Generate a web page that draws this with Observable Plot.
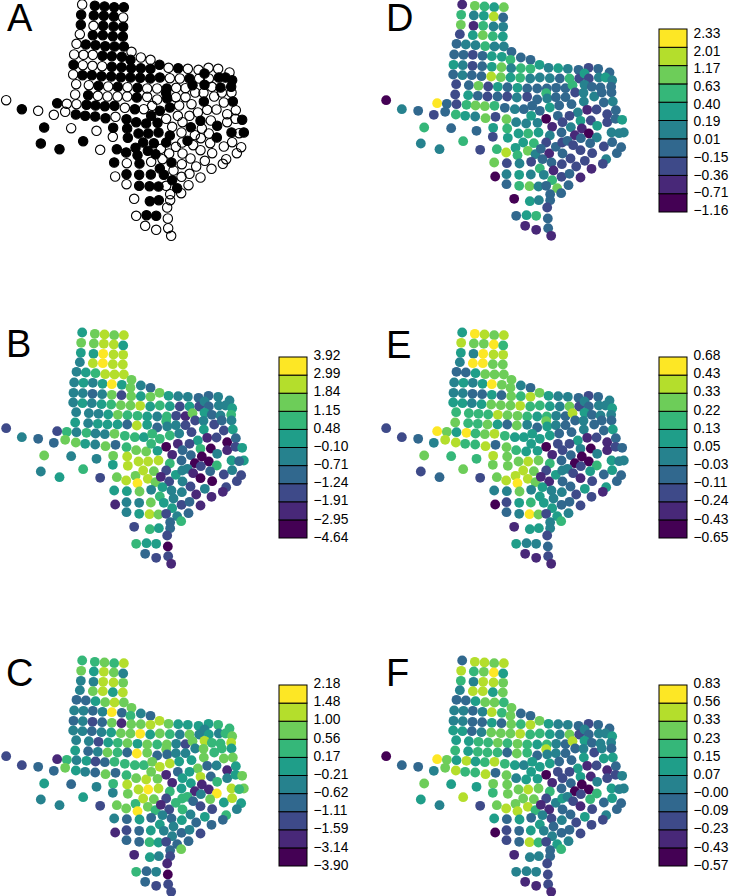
<!DOCTYPE html>
<html><head><meta charset="utf-8">
<style>
html,body{margin:0;padding:0;background:#fff;width:731px;height:896px;overflow:hidden}
#page{position:relative;width:731px;height:896px;font-family:"Liberation Sans",Arial,sans-serif}
#page>div{position:absolute}
#page svg{overflow:visible;background:transparent;display:block}
.letter{font-size:38px;line-height:0.9;color:#000}
</style>
<script src="https://cdn.jsdelivr.net/npm/d3@7"></script>
<script src="https://cdn.jsdelivr.net/npm/@observablehq/plot@0.6"></script>
</head><body><div id="page"></div>
<script>
const stationX=[245,283,312,341,370,242,280,310,340,368,
241,279,308,339,368,238,277,307,337,367,
228,256,285,314,342,370,221,249,277,306,
334,364,393,390,421,450,219,247,276,305,
334,363,392,421,450,477,504,533,562,594,
624,653,687,218,246,274,303,332,361,390,
419,449,478,508,538,567,596,612,625,655,
675,695,227,265,294,323,352,381,411,440,
470,499,527,555,576,612,634,660,692,224,
263,292,321,351,380,409,440,470,497,500,
526,555,584,609,641,664,693,170,199,228,
258,285,313,342,373,403,430,455,478,508,
536,573,610,670,697,592,620,648,680,706,
17,64,113,160,194,226,254,284,315,345,
378,407,437,452,471,497,532,567,515,546,
571,600,631,680,705,725,604,625,583,650,
649,693,730,716,601,543,508,474,443,414,
380,338,288,212,131,382,337,248,121,177,
299,349,377,405,428,442,460,411,465,497,
481,506,526,545,561,578,629,670,695,722,
600,635,709,546,570,613,677,341,379,417,
452,486,513,544,587,633,667,519,478,378,
416,451,490,344,543,567,600,515,378,416,
447,474,497,530,564,542,509,401,448,475,
509,500,407,438,467,502,434,467,503,512];
const stationY=[21,25,27,29,29,52,54,55,57,60,
82,85,85,87,88,110,113,113,116,117,
139,141,143,146,147,147,171,172,172,175,
176,178,163,187,180,187,202,203,205,206,
208,209,212,212,214,202,211,212,214,217,
211,214,225,231,233,233,236,237,239,240,
241,243,240,242,243,243,243,228,243,240,
240,248,260,263,265,267,268,269,271,273,
273,273,271,272,263,262,268,270,268,291,
293,295,297,297,297,300,298,306,287,303,
299,299,285,286,297,285,285,317,319,320,
322,324,326,325,331,335,335,325,340,330,
324,320,312,315,312,345,337,336,350,338,
308,335,340,352,343,351,355,357,362,358,
365,374,378,355,376,364,355,355,388,374,
389,370,369,374,364,367,393,408,413,385,
420,405,405,407,422,405,414,405,408,408,
393,391,400,392,390,421,418,431,438,455,
457,455,465,451,435,460,437,473,470,435,
454,468,448,435,430,443,437,447,434,449,
458,467,467,468,483,490,485,495,497,498,
493,485,495,500,507,514,499,519,513,530,
532,531,532,537,538,529,540,548,560,565,
566,567,565,572,563,587,590,604,611,608,
608,630,655,653,655,663,685,697,692,715];
const panelA=[0,1,1,1,1,1,1,1,1,0,
1,0,1,1,1,0,1,1,1,1,
0,1,1,1,1,1,0,0,0,1,
1,1,0,1,0,0,1,0,0,0,
1,1,1,1,1,1,0,1,0,0,
0,0,0,0,1,1,1,1,1,1,
1,1,1,0,0,1,0,1,0,1,
1,1,0,0,1,0,1,0,1,0,
0,1,0,0,1,1,0,1,1,0,
1,0,0,0,0,1,0,0,1,1,
0,0,0,0,0,0,0,1,0,0,
1,1,1,1,0,1,0,0,1,1,
0,0,1,0,1,0,0,0,0,0,
0,1,0,0,0,1,1,1,1,0,
1,1,1,1,1,0,0,0,0,0,
1,1,0,0,0,1,0,0,0,1,
1,1,1,0,0,0,1,1,1,1,
1,1,0,0,1,1,0,1,1,1,
0,1,1,1,1,1,1,1,1,1,
0,0,0,0,1,0,0,0,0,0,
0,0,0,0,0,0,0,1,0,1,
0,0,1,0,0,0,0,0,1,1,
1,1,1,0,0,0,0,1,0,1,
1,1,0,1,0,0,0,0,1,1,
0,0,0,1,1,0,0,0,0,0];
const panelB=[5,7,8,7,8,7,7,8,8,5,
5,5,9,8,8,4,8,9,8,8,
4,5,6,8,8,8,4,5,4,5,
9,5,7,7,4,3,4,4,3,4,
7,2,7,5,7,7,5,4,4,3,
3,4,4,4,5,4,5,6,7,7,
8,5,6,5,2,5,2,4,3,4,
4,5,4,4,4,5,7,6,6,5,
4,6,2,1,7,5,3,4,6,5,
4,5,5,5,3,8,5,3,6,4,
4,2,2,4,2,3,4,2,6,4,
6,4,4,7,6,6,5,6,6,6,
4,2,5,2,5,5,1,2,0,3,
2,4,3,3,7,7,5,4,7,3,
6,7,7,6,5,0,1,2,1,3,
3,6,0,1,2,5,0,0,0,4,
6,5,5,3,2,3,6,8,8,8,
8,7,4,4,7,8,5,6,4,5,
2,7,8,7,8,8,7,9,7,2,
1,2,5,4,4,1,3,2,4,2,
0,0,2,4,2,4,2,5,5,7,
4,5,4,4,1,1,1,4,6,4,
4,7,5,1,2,3,1,5,4,5,
8,7,2,4,3,6,3,2,6,5,
3,2,6,5,5,0,3,2,2,1];
const panelC=[6,6,7,6,8,7,5,8,7,4,
4,4,8,8,7,4,7,8,5,8,
3,3,5,7,8,7,4,4,3,4,
9,3,7,6,4,3,3,4,2,3,
7,1,7,7,8,8,7,5,5,5,
5,6,6,4,4,3,4,5,7,7,
9,5,7,6,4,7,4,4,5,4,
6,7,4,4,2,5,6,7,5,7,
6,7,4,2,7,8,6,6,8,5,
3,4,7,6,3,9,7,3,7,3,
4,4,4,7,6,6,5,1,6,4,
5,2,3,6,6,6,6,7,8,8,
5,5,7,7,7,7,3,4,1,5,
2,2,3,3,7,5,4,3,7,3,
6,7,8,7,7,1,3,5,1,5,
5,8,3,4,5,7,1,1,1,6,
9,8,7,6,4,5,6,8,9,8,
8,6,4,3,5,7,4,5,4,4,
2,7,7,6,8,7,7,9,6,2,
1,2,6,6,6,3,7,5,8,5,
2,2,4,6,4,5,6,4,3,5,
3,4,3,5,3,3,3,4,5,2,
3,5,4,1,3,4,2,4,3,3,
6,5,2,3,3,7,3,1,5,4,
2,1,6,3,4,0,3,2,2,2];
const panelD=[1,7,6,5,7,6,4,5,8,3,
7,1,6,4,4,2,5,7,6,5,
3,4,4,6,4,4,3,3,2,3,
5,5,3,6,3,3,5,4,2,3,
5,7,4,6,6,5,4,5,4,3,
2,3,3,3,4,3,3,8,7,5,
6,4,4,4,3,6,2,5,2,4,
5,4,2,3,7,2,5,3,5,3,
3,3,3,3,6,4,3,3,3,2,
5,3,2,3,2,4,2,3,6,4,
3,3,2,4,4,3,3,9,3,2,
6,7,7,6,3,4,3,3,3,5,
3,3,4,3,4,4,1,2,2,3,
0,4,3,2,3,6,5,4,7,2,
7,4,4,5,4,0,3,2,1,2,
4,5,2,2,3,5,1,0,1,5,
4,4,4,4,3,3,4,5,6,5,
6,5,3,3,6,5,2,6,4,4,
2,6,8,5,5,7,6,6,4,2,
3,1,3,2,3,2,3,2,3,3,
2,2,3,3,2,2,4,7,2,4,
2,3,3,2,2,1,2,1,6,4,
5,4,4,0,2,3,1,6,3,6,
7,4,3,7,3,3,3,0,5,4,
3,2,3,5,6,3,1,1,3,1];
const panelE=[5,9,8,7,8,8,7,7,9,6,
5,4,9,8,8,4,9,9,7,7,
3,3,5,7,7,7,4,5,4,5,
9,7,7,7,4,3,4,4,3,3,
5,3,7,6,8,7,5,4,4,3,
2,3,4,5,5,4,5,7,7,7,
8,6,6,5,4,7,2,4,3,4,
4,5,6,6,6,6,8,7,7,6,
5,6,4,3,8,5,3,4,4,7,
6,6,7,5,3,7,4,3,7,5,
4,3,3,4,3,3,3,9,7,5,
9,6,7,8,6,5,5,5,5,5,
3,3,4,3,5,5,1,2,1,3,
2,2,3,4,8,8,6,6,8,3,
7,6,5,5,5,0,2,2,1,2,
3,4,0,1,2,3,0,0,0,4,
6,5,4,4,2,3,6,7,8,7,
7,8,6,6,7,7,7,7,2,3,
2,7,8,8,8,8,7,9,7,2,
1,1,5,4,4,2,5,3,5,3,
1,2,3,3,3,5,5,4,4,7,
4,5,4,4,2,2,1,4,5,2,
5,6,5,0,3,3,2,5,3,4,
9,7,2,5,4,6,4,1,5,5,
4,2,5,4,4,3,1,1,2,1];
const panelF=[3,8,8,7,8,8,6,7,9,5,
6,4,8,8,7,4,8,8,5,7,
3,3,5,7,7,6,4,4,3,4,
8,6,7,7,3,3,4,4,3,3,
5,3,7,6,8,7,5,4,4,3,
2,3,3,5,5,3,4,7,7,7,
8,6,6,5,4,7,2,4,3,4,
4,5,5,5,6,6,7,6,7,6,
5,6,4,3,8,5,3,4,4,6,
5,6,6,6,3,7,6,3,8,4,
4,3,3,4,2,4,3,9,7,5,
8,5,6,8,6,5,4,5,5,5,
3,3,5,5,5,5,1,2,1,3,
0,3,3,4,7,8,6,6,8,3,
7,4,5,5,5,0,2,2,1,2,
3,5,1,2,2,4,0,0,0,4,
6,5,4,4,2,3,6,7,8,7,
7,7,5,5,7,7,6,8,5,4,
2,7,8,7,7,8,7,8,6,2,
1,1,4,5,4,2,6,3,5,3,
1,2,3,3,3,5,4,5,3,5,
3,4,2,4,2,2,2,3,5,2,
3,5,4,0,3,3,2,4,2,3,
8,6,2,5,4,6,3,1,4,4,
3,2,4,4,4,2,1,1,2,1];
const ticksB=["\u22124.64","\u22122.95","\u22121.91","\u22121.24","\u22120.71","\u22120.10","0.48","1.15","1.84","2.99","3.92"];
const ticksC=["\u22123.90","\u22123.14","\u22121.59","\u22121.11","\u22120.62","\u22120.21","0.17","0.56","1.00","1.48","2.18"];
const ticksD=["\u22121.16","\u22120.71","\u22120.36","\u22120.15","0.01","0.19","0.40","0.63","1.17","2.01","2.33"];
const ticksE=["\u22120.65","\u22120.43","\u22120.24","\u22120.11","\u22120.03","0.05","0.13","0.22","0.33","0.43","0.68"];
const ticksF=["\u22120.57","\u22120.43","\u22120.23","\u22120.09","\u22120.00","0.07","0.15","0.23","0.33","0.56","0.83"];
const viridis10=["#440154","#482878","#3E4A89","#31688E","#26828E","#1F9E89","#35B779","#6DCD59","#B4DE2C","#FDE725"];
const classes=d3.range(10);
const stations=stationX.map((x,i)=>({x,y:stationY[i],i}));
const page=document.getElementById("page");
function place(node,left,top){const d=document.createElement("div");d.style.left=left+"px";d.style.top=top+"px";d.appendChild(node);page.appendChild(d);}
function letter(t,left,top){const s=document.createElement("span");s.className="letter";s.textContent=t;s.style.display="block";place(s,left,top);}
const mapOpts={width:250,height:245,margin:0,x:{domain:[0,750],axis:null},y:{domain:[735,0],axis:null}};
function classMap(values){
  return Plot.plot({...mapOpts,
    color:{type:"ordinal",domain:classes,range:viridis10},
    marks:[Plot.dot(stations,{x:"x",y:"y",r:4.9,fill:d=>values[d.i],stroke:null})]});
}
function binaryMap(values){
  return Plot.plot({...mapOpts,
    marks:[Plot.dot(stations,{x:"x",y:"y",r:4.7,fill:d=>values[d.i]?"black":"none",stroke:"black",strokeWidth:1.1})]});
}
function legend(labels,boxHeight,lo,hi){
  return Plot.plot({width:70,height:boxHeight+24,marginLeft:0,marginRight:42,marginTop:12,marginBottom:12,
    x:{domain:[0,1],axis:null},y:{domain:[0,10],axis:null},
    marks:[
      Plot.rect(classes,{x1:()=>0,x2:()=>1,y1:d=>d,y2:d=>d+1,inset:0,fill:d=>viridis10[d],stroke:"black",strokeWidth:1}),
      Plot.text(d3.range(11),{x:()=>1,y:i=>lo+i*(hi-lo)/10,text:i=>labels[i],textAnchor:"start",dx:6,fontSize:13.8,fill:"#000",fontFamily:"Liberation Sans"})
    ]});
}
const rowTop=[-2.7,325,652.7];
place(binaryMap(panelA),0,rowTop[0]);
place(classMap(panelB),0,rowTop[1]);
place(classMap(panelC),0,rowTop[2]);
place(classMap(panelD),380,rowTop[0]);
place(classMap(panelE),380,rowTop[1]);
place(classMap(panelF),380,rowTop[2]);
place(legend(ticksB,181,0.06,10.1),279,345);
place(legend(ticksC,181,0.06,10.1),279,673);
place(legend(ticksD,183,0.11,9.78),659,17);
place(legend(ticksE,181,0.06,10.1),659,345);
place(legend(ticksF,181,0.06,10.1),659,673);
letter("A",7,0.7);letter("B",6,327.2);letter("C",6,655.7);
letter("D",386,0.7);letter("E",386,327.7);letter("F",386,655.7);
</script></body></html>
